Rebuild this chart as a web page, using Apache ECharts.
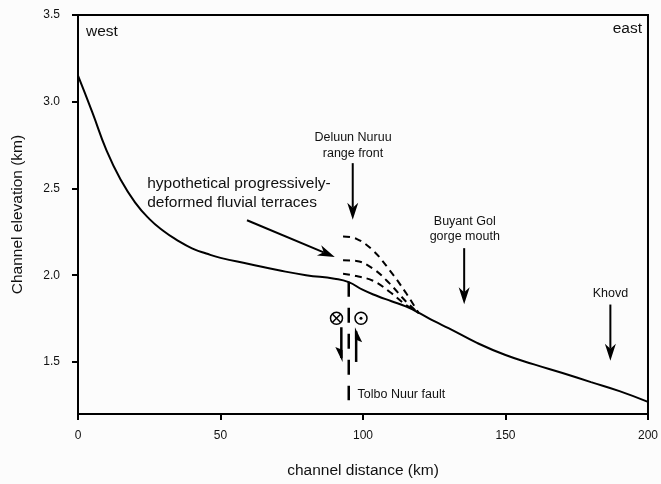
<!DOCTYPE html>
<html>
<head>
<meta charset="utf-8">
<script src="https://cdn.jsdelivr.net/npm/echarts@6/dist/echarts.min.js"></script>
<style>
  html, body { margin: 0; padding: 0; background: #fcfcfc; }
  #main { width: 661px; height: 484px; }
</style>
</head>
<body>
<div id="main"></div>
<script>
// channel profile (km)
const distance = [0, 5, 10, 15, 20, 25, 30, 35, 40, 45, 50, 60, 70, 80, 90, 95, 100, 105, 110, 115, 120, 125, 130, 140, 150, 160, 170, 180, 190, 200];
const elevation = [3.15, 2.94, 2.72, 2.55, 2.42, 2.325, 2.255, 2.2, 2.155, 2.125, 2.1, 2.065, 2.03, 2.0, 1.98, 1.96, 1.915, 1.88, 1.85, 1.82, 1.78, 1.735, 1.695, 1.61, 1.54, 1.486, 1.436, 1.384, 1.332, 1.27];

// hypothetical deformed terraces
const terraceDist = [93, 97.7, 103.5, 109.3, 115, 119.6];
const terraceHigh = [2.223, 2.21, 2.143, 2.03, 1.90, 1.78];
const terraceMid = [2.086, 2.082, 2.038, 1.953, 1.85, 1.78];
const terraceLow = [2.008, 1.995, 1.968, 1.905, 1.83, 1.785];

const xTicks = [0, 50, 100, 150, 200];
const yTicks = [1.5, 2.0, 2.5, 3.0, 3.5];

const FONT = '"Liberation Sans", Arial, sans-serif';

// annotations in data coordinates
const arrows = [
  [96.4, 2.646, 96.4, 2.32],
  [59.3, 2.317, 90.1, 2.105],
  [135.5, 2.156, 135.5, 1.833],
  [186.8, 1.831, 186.8, 1.507]
];
const labels = [
  { at: [2.8, 3.403], text: 'west', size: 15.5, align: 'left' },
  { at: [197.9, 3.42], text: 'east', size: 15.5, align: 'right' },
  { at: [24.3, 2.472], text: 'hypothetical progressively-\ndeformed fluvial terraces', size: 15.5, align: 'left', lh: 19 },
  { at: [96.5, 2.748], text: 'Deluun Nuruu\nrange front', size: 12.5, align: 'center', lh: 16 },
  { at: [135.7, 2.268], text: 'Buyant Gol\ngorge mouth', size: 12.5, align: 'center', lh: 15 },
  { at: [186.8, 1.894], text: 'Khovd', size: 12.5, align: 'center' },
  { at: [98.1, 1.313], text: 'Tolbo Nuur fault', size: 12.5, align: 'left' }
];

function pairs(xs, ys) {
  return xs.map((x, i) => [x, ys[i]]);
}

function terrace(ys) {
  return {
    type: 'line',
    data: pairs(terraceDist, ys),
    smooth: 0.4,
    showSymbol: false,
    lineStyle: { color: '#000', width: 2, type: [7, 5] },
    z: 3
  };
}

function drawAnnotations(params, api) {
  const kids = [];
  const black = '#000';
  // arrows with heads
  arrows.forEach(a => {
    const p1 = api.coord([a[0], a[1]]);
    const p2 = api.coord([a[2], a[3]]);
    const dx = p2[0] - p1[0], dy = p2[1] - p1[1];
    const len = Math.hypot(dx, dy);
    const ux = dx / len, uy = dy / len, nx = -uy, ny = ux;
    const L = 17, W = 5.5, N = 12;
    const base = [p2[0] - ux * N, p2[1] - uy * N];
    kids.push({ type: 'line', shape: { x1: p1[0], y1: p1[1], x2: base[0], y2: base[1] }, style: { stroke: black, lineWidth: 2 } });
    kids.push({ type: 'polygon', shape: { points: [p2, [p2[0] - ux * L + nx * W, p2[1] - uy * L + ny * W], base, [p2[0] - ux * L - nx * W, p2[1] - uy * L - ny * W]] }, style: { fill: black } });
  });
  // fault trace
  const f1 = api.coord([95, 1.962]);
  const f2 = api.coord([95, 1.279]);
  kids.push({ type: 'line', shape: { x1: f1[0], y1: f1[1], x2: f2[0], y2: f2[1] }, style: { stroke: black, lineWidth: 2.5, lineDash: [15, 11] } });
  // strike-slip half arrows
  [[92.4, 1.70, 92.4, 1.50], [97.6, 1.50, 97.6, 1.70]].forEach(a => {
    const p1 = api.coord([a[0], a[1]]);
    const p2 = api.coord([a[2], a[3]]);
    const s = p2[1] > p1[1] ? 1 : -1;
    kids.push({ type: 'line', shape: { x1: p1[0], y1: p1[1], x2: p2[0], y2: p2[1] - s * 4 }, style: { stroke: black, lineWidth: 2.5 } });
    kids.push({ type: 'polygon', shape: { points: [[p2[0] + s * 1.2, p2[1]], [p2[0] - s * 6, p2[1] - s * 15], [p2[0] + s * 1.2, p2[1] - s * 12]] }, style: { fill: black } });
  });
  // into / out of page symbols
  const c1 = api.coord([90.7, 1.752]);
  const c2 = api.coord([99.3, 1.752]);
  const r = 6, d = r * 0.7;
  kids.push({ type: 'circle', shape: { cx: c1[0], cy: c1[1], r: r }, style: { fill: 'none', stroke: black, lineWidth: 1.5 } });
  kids.push({ type: 'line', shape: { x1: c1[0] - d, y1: c1[1] - d, x2: c1[0] + d, y2: c1[1] + d }, style: { stroke: black, lineWidth: 1.5 } });
  kids.push({ type: 'line', shape: { x1: c1[0] - d, y1: c1[1] + d, x2: c1[0] + d, y2: c1[1] - d }, style: { stroke: black, lineWidth: 1.5 } });
  kids.push({ type: 'circle', shape: { cx: c2[0], cy: c2[1], r: r }, style: { fill: 'none', stroke: black, lineWidth: 1.5 } });
  kids.push({ type: 'circle', shape: { cx: c2[0], cy: c2[1], r: 1.5 }, style: { fill: black } });
  // text labels
  labels.forEach(t => {
    const p = api.coord(t.at);
    kids.push({
      type: 'text',
      x: p[0], y: p[1],
      style: {
        text: t.text,
        fill: '#111',
        font: t.size + 'px ' + FONT,
        align: t.align,
        verticalAlign: 'middle',
        lineHeight: t.lh || t.size
      }
    });
  });
  return { type: 'group', children: kids };
}

const chart = echarts.init(document.getElementById('main'), null, { renderer: 'canvas' });
chart.setOption({
  animation: false,
  backgroundColor: '#fcfcfc',
  textStyle: { fontFamily: FONT },
  grid: { left: 78, right: 5, top: 15, bottom: 65, show: true, borderColor: '#000', borderWidth: 2 },
  xAxis: {
    type: 'value',
    min: 0, max: 200, interval: 50,
    name: 'channel distance (km)',
    nameLocation: 'middle',
    nameGap: 49,
    nameTextStyle: { fontSize: 15.5, color: '#111', fontFamily: FONT },
    axisLine: { show: true, lineStyle: { color: '#000', width: 2 } },
    axisTick: { show: true, length: 6, lineStyle: { color: '#000', width: 2 } },
    axisLabel: { fontSize: 12, color: '#111', margin: 16, fontFamily: FONT },
    splitLine: { show: false }
  },
  yAxis: {
    type: 'value',
    min: 1.2, max: 3.5,
    name: 'Channel elevation (km)',
    nameLocation: 'middle',
    nameGap: 52,
    nameTextStyle: { fontSize: 15.5, color: '#111', fontFamily: FONT },
    axisLine: { show: true, lineStyle: { color: '#000', width: 2 } },
    axisTick: { show: true, length: 6, customValues: yTicks, lineStyle: { color: '#000', width: 2 } },
    axisLabel: { fontSize: 12, color: '#111', margin: 18, customValues: yTicks, formatter: v => v.toFixed(1), fontFamily: FONT },
    splitLine: { show: false }
  },
  series: [
    {
      type: 'line',
      data: pairs(distance, elevation),
      smooth: 0.5,
      showSymbol: false,
      lineStyle: { color: '#000', width: 2 },
      z: 4
    },
    terrace(terraceHigh),
    terrace(terraceMid),
    terrace(terraceLow),
    {
      type: 'custom',
      data: [[100, 2]],
      clip: false,
      renderItem: drawAnnotations,
      z: 5
    }
  ]
});
</script>
</body>
</html>
